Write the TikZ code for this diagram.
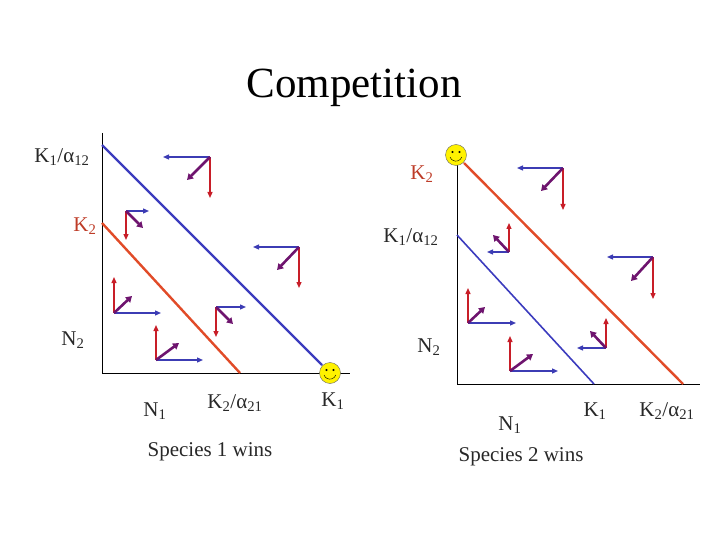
\documentclass[tikz,border=0pt]{standalone}
\usepackage{fontspec}
\setmainfont{Liberation Serif}
\usetikzlibrary{arrows.meta}
\definecolor{bl}{RGB}{60,60,180}
\definecolor{rd}{RGB}{200,30,40}
\definecolor{pu}{RGB}{110,20,110}
\definecolor{ln}{RGB}{225,75,40}
\definecolor{lb}{RGB}{60,60,190}
\definecolor{kr}{RGB}{190,60,40}
\definecolor{tx}{RGB}{40,40,40}
\tikzset{
 ar/.style={line width=1.3pt,-{Triangle[length=6pt,width=5pt]}},
 pa/.style={line width=2.6pt,-{Triangle[length=6pt,width=7pt]},pu},
 lab/.style={font=\fontsize{21}{24}\selectfont,inner sep=0pt,tx},
 smile/.style={circle,draw=black!60,fill=yellow,minimum size=21pt,inner sep=0pt}
}
\newcommand\cross[4]{% corner, blue, red, purple end
 \draw[ar,bl] (#1) -- (#2);
 \draw[ar,rd] (#1) -- (#3);
 \draw[pa] (#1) -- (#4);}
\begin{document}
\begin{tikzpicture}[x=1pt,y=-1pt]
\useasboundingbox (0,0) rectangle (720,540);
\node[font=\fontsize{43}{46}\selectfont] (title) at (354,88) {Competition};
% left plot
\draw[black] (102,133) -- (102,373) -- (350,373);
\draw[line width=2.4pt,ln] (102,223) -- (240,373);
\draw[line width=2.4pt,lb] (102,145) -- (322,365);
\node[smile] (s1) at (330,373) {};
\draw[black,fill=black] (326.5,370) circle (0.8pt) (333.5,370) circle (0.8pt);
\draw[black] (324,375) arc (200:340:6.3pt);
\cross{210,157}{163,157}{210,198}{187,180}
\cross{126,211}{149,211}{126,240}{143,228}
\cross{299,247}{253,247}{299,288}{277,270}
\cross{114,313}{161,313}{114,277}{132,296}
\cross{216,307}{246,307}{216,337}{233,324}
\cross{156,360}{203,360}{156,325}{179,343}
\node[lab] (a1) at (62,157) {K\textsubscript{1}/α\textsubscript{12}};
\node[lab,kr] (a2) at (85,226) {K\textsubscript{2}};
\node[lab] (a3) at (73,340) {N\textsubscript{2}};
\node[lab] (a4) at (155,411) {N\textsubscript{1}};
\node[lab] (a5) at (235,403) {K\textsubscript{2}/α\textsubscript{21}};
\node[lab] (a6) at (333,401) {K\textsubscript{1}};
\node[lab] (a7) at (210,452) {Species 1 wins};
% right plot
\draw[black] (457,165) -- (457,384) -- (700,384);
\draw[line width=1.6pt,lb] (457,235) -- (594,384);
\draw[line width=2.4pt,ln] (464,163) -- (683,384);
\node[smile] (s2) at (456,155) {};
\draw[black,fill=black] (452.5,152) circle (0.8pt) (459.5,152) circle (0.8pt);
\draw[black] (450,157) arc (200:340:6.3pt);
\cross{563,168}{517,168}{563,210}{541,191}
\cross{509,252}{487,252}{509,223}{493,235}
\cross{653,257}{607,257}{653,299}{631,281}
\cross{468,323}{516,323}{468,288}{485,307}
\cross{606,348}{577,348}{606,318}{590,331}
\cross{510,371}{558,371}{510,336}{533,354}
\node[lab,kr] (b1) at (422,174) {K\textsubscript{2}};
\node[lab] (b2) at (411,237) {K\textsubscript{1}/α\textsubscript{12}};
\node[lab] (b3) at (429,347) {N\textsubscript{2}};
\node[lab] (b4) at (510,425) {N\textsubscript{1}};
\node[lab] (b5) at (595,411) {K\textsubscript{1}};
\node[lab] (b6) at (667,411) {K\textsubscript{2}/α\textsubscript{21}};
\node[lab] (b7) at (521,457) {Species 2 wins};
\end{tikzpicture}
\end{document}
